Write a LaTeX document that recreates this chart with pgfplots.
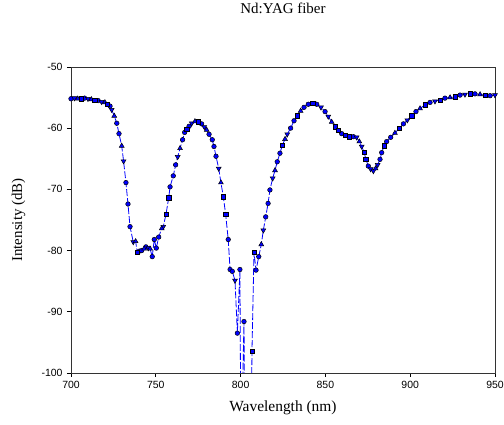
\documentclass[border=0pt]{standalone}
\usepackage{pgfplots}
\pgfplotsset{compat=1.18}
\usepackage{pgfplotstable}
\usepackage{fontspec}
\setmainfont{Liberation Serif}
\newfontfamily\arial{Liberation Sans}
\pgfplotstableread{
x y c
700 -55.2 1
702 -55.1 2
704 -55.2 3
706 -55.2 4
708 -55.1 1
710 -55.2 2
712 -55.3 3
714 -55.4 4
716 -55.5 1
718 -55.7 2
720 -55.8 3
721.5 -56.1 4
723 -56.4 1
724 -57.0 2
725.5 -58.0 3
727 -59.2 1
728.3 -60.9 1
729.9 -62.9 3
731 -65.4 2
732.4 -68.9 1
733.6 -72.4 1
734.8 -76.1 1
736.7 -78.6 2
738.1 -78.5 3
739.1 -80.3 4
740.3 -80.1 1
741.7 -80.0 1
743.1 -79.7 3
744.2 -79.4 1
745.6 -79.6 2
746.6 -79.7 3
747.9 -81.0 1
749.1 -78.2 1
750.3 -79.6 1
751.7 -77.8 1
753.5 -76.4 3
754.4 -76.1 2
756 -74.1 4
757.6 -71.4 4
758.4 -69.6 1
760.3 -67.8 1
761.7 -66.0 1
762.9 -64.7 2
764.3 -63.3 3
765.8 -61.9 1
767 -60.7 1
768.2 -60.2 4
769.6 -59.7 1
771.2 -59.2 2
773.1 -58.9 3
775 -58.95 4
777 -59.3 1
778.6 -59.8 2
780 -60.3 3
781.4 -61.0 1
783.3 -61.9 1
784.3 -63.0 1
785.5 -64.6 1
787.1 -66.6 2
788.4 -68.9 3
789.8 -71.2 4
791.2 -74.1 4
792.7 -78.2 1
793.8 -83.1 1
795.1 -83.4 1
796.7 -84.9 2
798.1 -93.5 1
799.6 -83.1 1
800.2 -115 1
802.0 -91.6 1
802.6 -115 1
806.2 -115 1
806.7 -96.5 4
807.9 -80.3 4
809.1 -83.2 1
810.7 -81.0 1
812.2 -79.0 3
813.4 -76.7 2
814.8 -74.5 1
816.2 -72.3 1
817.3 -70.1 1
818.9 -68.2 2
820.3 -66.9 3
821.6 -65.5 1
823.2 -64.1 1
824.6 -62.8 4
826.2 -61.8 3
827.5 -61.0 2
829.5 -60.0 1
831.5 -58.8 1
833.4 -58.0 4
835.4 -57.2 3
837.4 -56.6 1
839.9 -56.1 1
842.5 -55.9 4
844.9 -56.1 1
847.4 -56.6 2
849.8 -57.3 1
851.7 -58.1 2
853.7 -59.0 3
855.7 -59.8 4
857.6 -60.3 4
859.6 -60.9 1
861.6 -61.2 4
864.1 -61.4 4
866.5 -61.4 1
868.4 -61.5 2
870 -62.2 3
871.4 -63.0 2
872.8 -63.9 4
873.9 -65.1 4
875.3 -66.2 1
876.7 -66.7 2
878.3 -67.0 2
879.6 -66.6 3
880.8 -66.0 2
882.2 -65.1 1
883.2 -64.0 1
884.6 -62.9 4
886.1 -62.2 1
888.5 -61.5 1
891 -60.8 3
893.6 -60.0 4
896 -59.3 1
898.3 -58.7 2
900.9 -58.0 4
903.4 -57.3 1
905.8 -56.8 3
908.7 -56.2 4
911.7 -55.8 1
914.6 -55.6 2
917.6 -55.4 4
920.5 -55.1 1
923.5 -55.0 3
926.4 -54.9 4
929.4 -54.6 1
932.3 -54.5 2
935.3 -54.4 4
938.2 -54.4 1
941.2 -54.5 3
944.1 -54.6 4
947.1 -54.7 1
950 -54.6 2
}\datatable
\begin{document}
\begin{tikzpicture}
\begin{axis}[
  scale only axis,
  width=424bp, height=306bp,
  at={(0,0)}, anchor=south west,
  xmin=700, xmax=950, ymin=-100, ymax=-50,
  xtick={700,750,800,850,900,950},
  xticklabels={700,750,800,850,900,950},
  ytick={-100,-90,-80,-70,-60,-50},
  yticklabels={-100,-90,-80,-70,-60,-50},
  tick pos=left,
  tick align=outside,
  major tick length=4bp,
  tick style={black, line width=0.8bp},
  axis line style={black!80, line width=0.8bp},
  ticklabel style={font=\arial\fontsize{10.5}{12}\selectfont},
  xticklabel style={yshift=-1bp},
  yticklabel style={xshift=-1bp},
  title={Nd:YAG fiber},
  title style={font=\fontsize{15}{18}\selectfont, at={(axis description cs:0.5,1)}, anchor=center, yshift=53bp},
  xlabel={Wavelength (nm)},
  xlabel style={font=\fontsize{15.5}{18}\selectfont, at={(axis description cs:0.5,0)}, anchor=center, yshift=-35bp},
  ylabel={Intensity (dB)},
  ylabel style={font=\fontsize{15}{18}\selectfont, at={(axis description cs:0,0.5)}, anchor=center, yshift=52.5bp},
  clip=true,
]
\addplot[blue, line width=0.8bp, dash pattern=on 7bp off 2bp, no marks] table[x=x,y=y] {\datatable};
\addplot[only marks, mark=*, mark size=2.3bp, draw=black, fill=blue, line width=0.5bp] table[x=x, y expr={\thisrow{c}==1 ? \thisrow{y} : -1000}] {\datatable};
\addplot[only marks, mark=triangle*, mark size=2.8bp, draw=black, fill=blue, line width=0.5bp, mark options={rotate=180}] table[x=x, y expr={\thisrow{c}==2 ? \thisrow{y} : -1000}] {\datatable};
\addplot[only marks, mark=triangle*, mark size=2.8bp, draw=black, fill=blue, line width=0.5bp] table[x=x, y expr={\thisrow{c}==3 ? \thisrow{y} : -1000}] {\datatable};
\addplot[only marks, mark=square*, mark size=2.2bp, draw=black, fill=blue, line width=0.5bp] table[x=x, y expr={\thisrow{c}==4 ? \thisrow{y} : -1000}] {\datatable};
\end{axis}
\pgfresetboundingbox
\useasboundingbox (-71bp,-52bp) rectangle (433bp,373bp);
\end{tikzpicture}
\end{document}
